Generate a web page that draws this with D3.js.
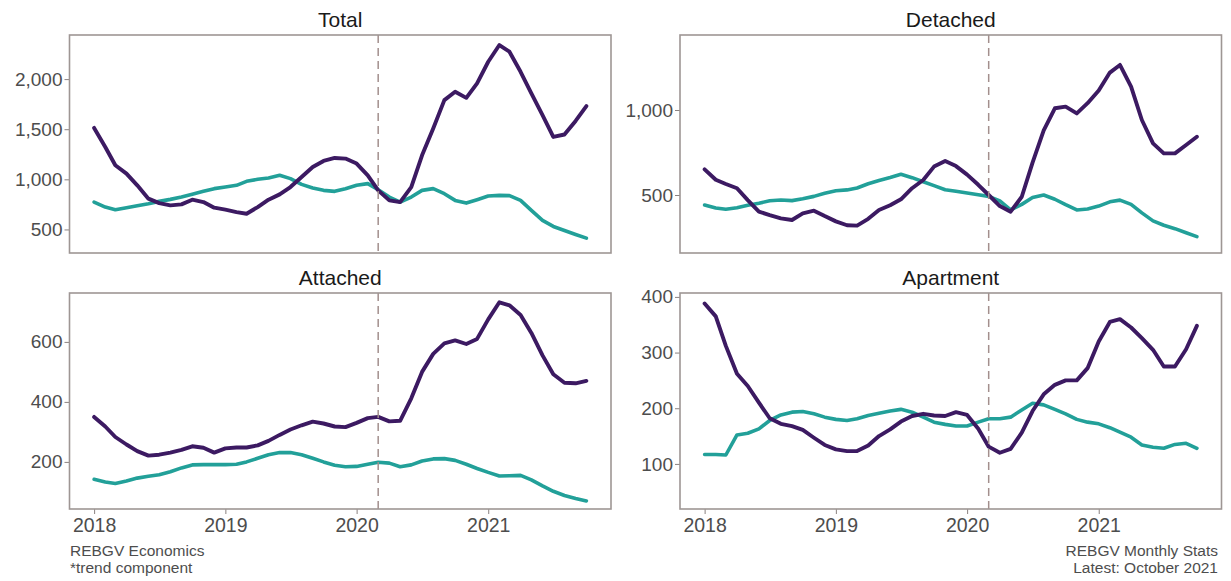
<!DOCTYPE html>
<html>
<head>
<meta charset="utf-8">
<script src="https://cdn.jsdelivr.net/npm/d3@7/dist/d3.min.js"></script>
<style>
  html, body { margin: 0; padding: 0; background: #ffffff; }
  svg { display: block; }
  text { font-family: "Liberation Sans", Arial, Helvetica, sans-serif; }
</style>
</head>
<body>
<svg id="chart" width="1231" height="581"></svg>
<script>
// Monthly trend component, January 2018 to October 2021 (46 months)
const startMonth = "2018-01-01";
const endMonth = "2021-10-01";
const markerDate = "2020-03-01";
const yearTicks = ["2018-01-01", "2019-01-01", "2020-01-01", "2021-01-01"];
const yearLabels = ["2018", "2019", "2020", "2021"];

const panelNames = ["Total", "Detached", "Attached", "Apartment"];

const totalSales = [1513, 1323, 1140, 1057, 940, 807, 763, 740, 750, 797, 773, 717,
  697, 673, 657, 723, 797, 850, 923, 1023, 1123, 1183, 1213, 1207,
  1157, 1040, 890, 790, 773, 923, 1240, 1507, 1790, 1873, 1813, 1957,
  2173, 2340, 2273, 2073, 1857, 1640, 1423, 1447, 1583, 1730];
const totalListings = [773, 723, 697, 717, 737, 757, 780, 800, 823, 850, 880, 907,
  923, 940, 980, 1000, 1013, 1040, 1007, 950, 913, 890, 880, 907,
  940, 957, 897, 823, 773, 823, 890, 907, 857, 790, 763, 797,
  833, 840, 837, 790, 690, 590, 530, 490, 450, 413];

const detachedSales = [651, 590, 565, 540, 470, 402, 382, 363, 353, 392, 408, 376,
  345, 322, 320, 360, 412, 440, 475, 540, 588, 667, 700, 670,
  620, 560, 500, 435, 402, 490, 690, 880, 1010, 1020, 980, 1040,
  1115, 1220, 1265, 1137, 941, 804, 745, 745, 794, 843];
const detachedListings = [441, 424, 416, 425, 440, 452, 466, 471, 467, 478, 492, 510,
  525, 530, 541, 566, 585, 603, 622, 602, 578, 555, 531, 522,
  512, 502, 492, 465, 412, 445, 485, 500, 475, 443, 412, 418,
  435, 460, 470, 445, 395, 348, 322, 302, 278, 255];

const attachedSales = [350, 318, 283, 258, 236, 221, 224, 231, 240, 252, 247, 231,
  245, 248, 248, 255, 270, 290, 308, 322, 334, 328, 318, 316,
  330, 346, 350, 335, 337, 412, 500, 560, 595, 605, 593, 610,
  675, 732, 722, 690, 630, 555, 492, 464, 462, 470];
const attachedListings = [142, 133, 128, 136, 146, 152, 157, 167, 180, 190, 191, 191,
  191, 192, 200, 212, 224, 231, 231, 224, 212, 200, 189, 184,
  185, 192, 199, 196, 184, 190, 203, 210, 211, 205, 192, 178,
  165, 153, 154, 155, 140, 120, 102, 88, 78, 70];

const apartmentSales = [388, 365, 312, 262, 240, 210, 182, 172, 168, 161, 147, 134,
  126, 123, 123, 133, 150, 162, 176, 186, 190, 187, 186, 193,
  188, 163, 131, 120, 127, 156, 195, 225, 242, 250, 250, 272,
  320, 355, 360, 345, 326, 305, 275, 275, 306, 348];
const apartmentListings = [117, 117, 116, 152, 155, 163, 178, 188, 193, 194, 190, 184,
  180, 178, 181, 187, 191, 195, 198, 193, 184, 175, 171, 168,
  168, 175, 181, 181, 184, 197, 209, 206, 198, 190, 180, 175,
  172, 165, 157, 148, 134, 130, 128, 135, 137, 128];

// Axis ranges and tick values for each panel
const yDomains = [[265, 2440], [159, 1441], [43, 763], [19, 407]];
const yTickValues = [[500, 1000, 1500, 2000], [500, 1000], [200, 400, 600], [100, 200, 300, 400]];

const footLeft = ["REBGV Economics", "*trend component"];
const footRight = ["REBGV Monthly Stats", "Latest: October 2021"];

// ---- layout ----
const colors = { sales: "#3c1a62", listings: "#22a099" };
const panelW = 541.5, panelH = 218, panelH2 = 216;
const panelPos = [
  { x: 69.5, y: 35, h: panelH },
  { x: 680, y: 35, h: panelH },
  { x: 69.5, y: 293, h: panelH2 },
  { x: 680, y: 293, h: panelH2 }
];

const parse = d3.utcParse("%Y-%m-%d");
const t0 = parse(startMonth), t1 = parse(endMonth);
const months = d3.utcMonth.range(t0, d3.utcMonth.offset(t1, 1));
const pad = (t1 - t0) * 0.05;
const x = d3.scaleUtc()
  .domain([new Date(+t0 - pad), new Date(+t1 + pad)])
  .range([0, panelW]);

const series = [
  [totalSales, totalListings],
  [detachedSales, detachedListings],
  [attachedSales, attachedListings],
  [apartmentSales, apartmentListings]
];

const svg = d3.select("#chart");
const fmt = d3.format(",");

panelNames.forEach((name, k) => {
  const p = panelPos[k];
  const g = svg.append("g").attr("transform", `translate(${p.x},${p.y})`);
  const y = d3.scaleLinear().domain(yDomains[k]).range([p.h, 0]);

  // panel title
  svg.append("text")
    .attr("x", p.x + panelW / 2)
    .attr("y", p.y - 8)
    .attr("text-anchor", "middle")
    .attr("font-size", 21)
    .attr("fill", "#1a1a1a")
    .text(name);

  // y axis
  const yAxis = g.append("g").call(
    d3.axisLeft(y).tickValues(yTickValues[k]).tickFormat(fmt).tickSize(5).tickPadding(2)
  );
  yAxis.select(".domain").remove();
  yAxis.selectAll(".tick line").attr("stroke", "#8a8280").attr("stroke-width", 1);
  yAxis.selectAll(".tick text").attr("font-size", 19).attr("fill", "#4d4d4d")
    .style("font-family", '"Liberation Sans", Arial, sans-serif');

  // x axis on bottom row only
  if (k >= 2) {
    const xAxis = g.append("g").attr("transform", `translate(0,${p.h})`).call(
      d3.axisBottom(x).tickValues(yearTicks.map(parse))
        .tickFormat((d, i) => yearLabels[i]).tickSize(5).tickPadding(4)
    );
    xAxis.select(".domain").remove();
    xAxis.selectAll(".tick line").attr("stroke", "#8a8280").attr("stroke-width", 1);
    xAxis.selectAll(".tick text").attr("font-size", 19.5).attr("fill", "#4d4d4d")
      .style("font-family", '"Liberation Sans", Arial, sans-serif');
  }

  // clip for lines
  const clipId = "clip" + k;
  g.append("clipPath").attr("id", clipId)
    .append("rect").attr("width", panelW).attr("height", p.h);

  const line = d3.line()
    .x((d, i) => x(months[i]))
    .y(d => y(d))
    .curve(d3.curveLinear);

  const lines = g.append("g").attr("clip-path", `url(#${clipId})`);
  lines.append("path")
    .datum(series[k][1])
    .attr("fill", "none")
    .attr("stroke", colors.listings)
    .attr("stroke-width", 3.6)
    .attr("stroke-linejoin", "round")
    .attr("stroke-linecap", "round")
    .attr("d", line);
  lines.append("path")
    .datum(series[k][0])
    .attr("fill", "none")
    .attr("stroke", colors.sales)
    .attr("stroke-width", 3.9)
    .attr("stroke-linejoin", "round")
    .attr("stroke-linecap", "round")
    .attr("d", line);

  // dashed marker line
  g.append("line")
    .attr("x1", x(parse(markerDate))).attr("x2", x(parse(markerDate)))
    .attr("y1", 0).attr("y2", p.h)
    .attr("stroke", "#a38f8d")
    .attr("stroke-width", 1.5)
    .attr("stroke-dasharray", "8,5");

  // panel border
  g.append("rect")
    .attr("width", panelW).attr("height", p.h)
    .attr("fill", "none")
    .attr("stroke", "#9e9694")
    .attr("stroke-width", 1.6);
});

// footnotes
footLeft.forEach((t, i) => {
  svg.append("text").attr("x", 70).attr("y", 556 + i * 17)
    .attr("font-size", 15.5).attr("fill", "#4d4d4d").text(t);
});
footRight.forEach((t, i) => {
  svg.append("text").attr("x", 1218).attr("y", 556 + i * 17)
    .attr("text-anchor", "end")
    .attr("font-size", 15.5).attr("fill", "#4d4d4d").text(t);
});
</script>
</body>
</html>
